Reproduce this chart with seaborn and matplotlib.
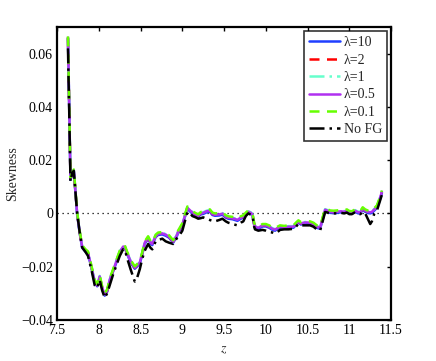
import pandas as pd
import seaborn as sns
import matplotlib
matplotlib.use("Agg")
import matplotlib.pyplot as plt

# redshift grid
z = [7.63, 7.645, 7.66, 7.68, 7.70, 7.72, 7.74, 7.77, 7.80, 7.84,
     7.87, 7.91, 7.95, 7.98, 8.01, 8.04, 8.07, 8.10, 8.13, 8.17,
     8.21, 8.25, 8.29, 8.31, 8.34, 8.38, 8.43, 8.46, 8.49, 8.52,
     8.55, 8.59, 8.62, 8.64, 8.68, 8.71, 8.76, 8.80, 8.84, 8.89,
     8.93, 8.95, 9.00, 9.03, 9.06, 9.09, 9.12, 9.16, 9.19, 9.22,
     9.25, 9.29, 9.33, 9.36, 9.39, 9.44, 9.48, 9.52, 9.55, 9.60,
     9.66, 9.70, 9.73, 9.76, 9.79, 9.82, 9.84, 9.86, 9.87, 9.91,
     9.96, 10.00, 10.04, 10.08, 10.11, 10.14, 10.17, 10.22, 10.27, 10.33,
     10.36, 10.39, 10.42, 10.45, 10.49, 10.53, 10.57, 10.61, 10.65, 10.68,
     10.71, 10.74, 10.77, 10.81, 10.85, 10.90, 10.94, 10.97, 11.00, 11.03,
     11.07, 11.10, 11.13, 11.16, 11.19, 11.22, 11.25, 11.27, 11.30, 11.33,
     11.36, 11.39]

# skewness with foreground removal (lambda runs are almost on top of each other)
skew_lam = [0.066, 0.040, 0.013, 0.015, 0.016, 0.008, 0.000, -0.007, -0.0125, -0.014,
            -0.0148, -0.020, -0.0256, -0.027, -0.0237, -0.028, -0.0305, -0.029, -0.025, -0.0215,
            -0.018, -0.0145, -0.0125, -0.0125, -0.015, -0.018, -0.0204, -0.0195, -0.0185, -0.015,
            -0.011, -0.0091, -0.011, -0.0115, -0.0085, -0.0077, -0.0075, -0.008, -0.0087, -0.0106,
            -0.0085, -0.0069, -0.0042, -0.001, 0.0021, 0.0012, 0.0003, -0.0004, -0.0009, 0.0,
            0.0002, 0.0008, 0.001, -0.0002, -0.0005, -0.0004, -0.0001, -0.0012, -0.0016, -0.0018,
            -0.0024, -0.0016, -0.0012, -0.0002, 0.0006, 0.0002, -0.0005, -0.004, -0.005, -0.0054,
            -0.0045, -0.0045, -0.005, -0.0058, -0.0061, -0.0055, -0.005, -0.0052, -0.005, -0.005,
            -0.004, -0.0031, -0.0038, -0.0035, -0.0034, -0.0035, -0.004, -0.005, -0.0054, -0.002,
            0.0014, 0.0010, 0.0006, 0.0005, 0.0006, 0.0008, 0.0006, 0.001, 0.0004, 0.0003,
            0.001, 0.0005, 0.0003, 0.0018, 0.001, 0.0006, 0.0004, 0.0006, 0.0015, 0.0025,
            0.005, 0.0081]
lam_labels = ["λ=10", "λ=2", "λ=1", "λ=0.5", "λ=0.1"]
lam_shift = [-0.0004, 0.0, 0.0002, 0.0, 0.0005]

# no foreground
skew_nofg = [0.062, 0.038, 0.012, 0.015, 0.016, 0.008, 0.000, -0.007, -0.0128, -0.0145,
             -0.016, -0.021, -0.027, -0.028, -0.025, -0.029, -0.0317, -0.030, -0.027, -0.023,
             -0.0195, -0.016, -0.0135, -0.0135, -0.017, -0.021, -0.0256, -0.024, -0.021, -0.017,
             -0.014, -0.0115, -0.013, -0.0135, -0.0105, -0.010, -0.0095, -0.0105, -0.011, -0.0115,
             -0.0095, -0.009, -0.0065, -0.003, 0.0005, 0.0002, -0.001, -0.0015, -0.002, -0.0018,
             -0.0015, -0.002, -0.0025, -0.0028, -0.003, -0.0025, -0.002, -0.003, -0.0035, -0.004,
             -0.0045, -0.0035, -0.003, -0.001, 0.0, -0.0005, -0.001, -0.005, -0.006, -0.0065,
             -0.0062, -0.0065, -0.007, -0.0072, -0.0075, -0.007, -0.0062, -0.006, -0.006, -0.0058,
             -0.005, -0.004, -0.0045, -0.0045, -0.0045, -0.0045, -0.005, -0.006, -0.0065, -0.003,
             0.0005, 0.0003, 0.0, 0.0, 0.0, 0.0002, 0.0, 0.0003, -0.0003, -0.0003,
             0.0005, 0.0, -0.0003, 0.0005, 0.0, -0.002, -0.004, -0.003, 0.0, 0.001,
             0.004, 0.007]

colors = ["#1f3fff", "#ff0000", "#66ffcc", "#b030f0", "#66ff00", "black"]
styles = ["-", (0, (4, 3)), (0, (6, 2, 1, 2)), "-", (0, (4, 3)), (0, (6, 2, 1, 2))]

sns.set_style("white")
plt.rcParams["font.family"] = ["Liberation Serif", "DejaVu Serif"]
plt.rcParams["mathtext.fontset"] = "stix"

fig = plt.figure(figsize=(4.36, 3.61), dpi=100)
ax = fig.add_axes([0.131, 0.114, 0.766, 0.811])

ax.axhline(0, color="black", lw=0.9, ls=(0, (1, 3)), zorder=1)

for i, lab in enumerate(lam_labels):
    d = pd.DataFrame({"z": z, "s": [v + lam_shift[i] for v in skew_lam]})
    sns.lineplot(data=d, x="z", y="s", ax=ax, color=colors[i], lw=1.8,
                 linestyle=styles[i], label=lab)

d = pd.DataFrame({"z": z, "s": skew_nofg})
sns.lineplot(data=d, x="z", y="s", ax=ax, color=colors[5], lw=1.8,
             linestyle=styles[5], label="No FG")

ax.set_xlim(7.5, 11.5)
ax.set_ylim(-0.04, 0.07)
ax.set_xticks([7.5, 8, 8.5, 9, 9.5, 10, 10.5, 11, 11.5])
ax.set_xticklabels(["7.5", "8", "8.5", "9", "9.5", "10", "10.5", "11", "11.5"])
ax.set_yticks([-0.04, -0.02, 0, 0.02, 0.04, 0.06])
ax.set_yticklabels(["\u22120.04", "\u22120.02", "0", "0.02", "0.04", "0.06"])
ax.tick_params(direction="in", top=True, right=True, length=3, width=1,
               labelsize=10, colors="black", pad=3)
for sp in ax.spines.values():
    sp.set_linewidth(1.6)
    sp.set_color("black")
ax.set_xlabel("$z$", fontsize=10, labelpad=4)
ax.set_ylabel("Skewness", fontsize=10, labelpad=1)

leg = ax.legend(loc="upper right", fontsize=10, frameon=True, fancybox=False,
                edgecolor="black", handlelength=2.2, handletextpad=0.3,
                borderpad=0.35, labelspacing=0.32, borderaxespad=0.3)
leg.get_frame().set_linewidth(1.2)

fig.savefig("out.png", dpi=100)
